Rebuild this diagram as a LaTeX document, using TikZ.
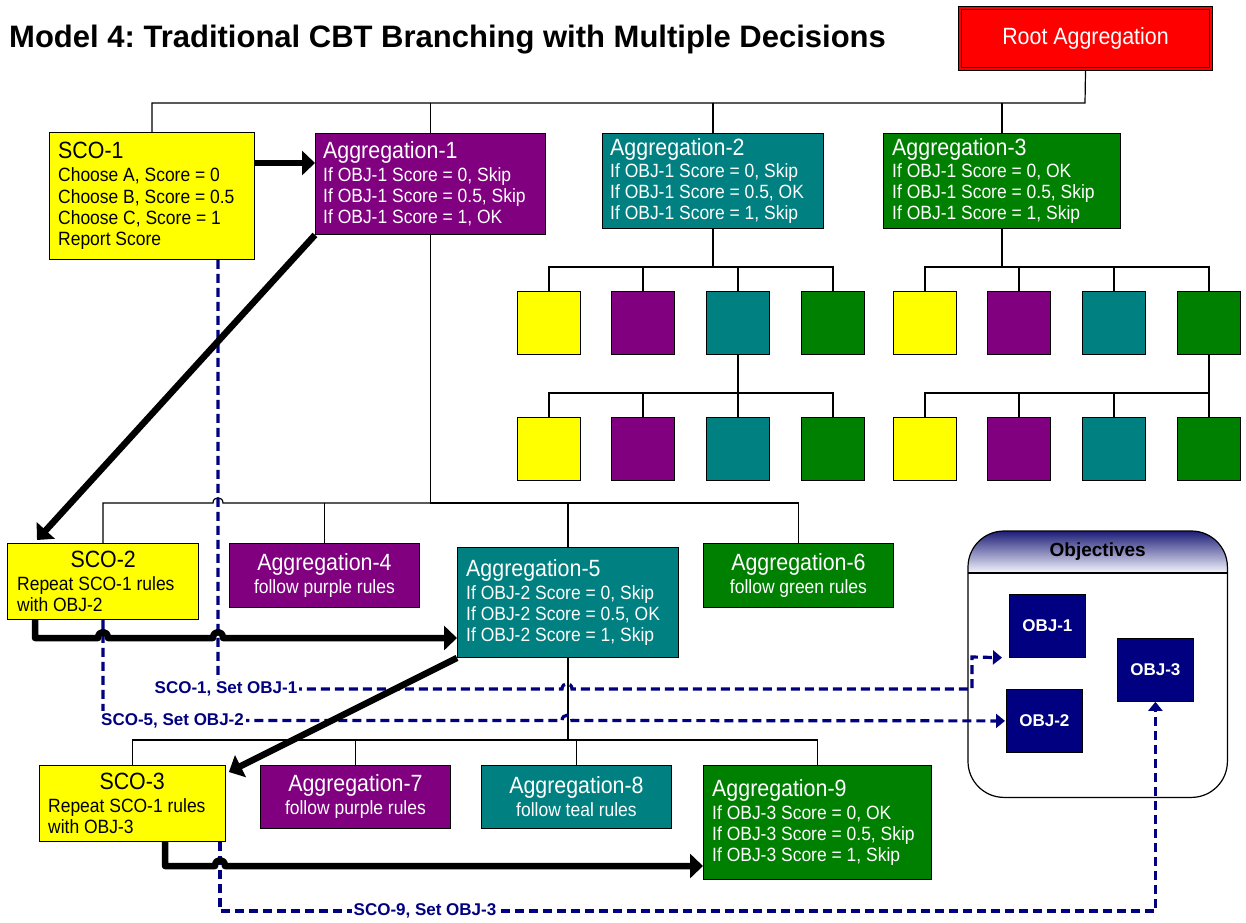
\documentclass[tikz,border=0pt]{standalone}
\usepackage{fontspec}
\setmainfont{Liberation Sans}
\newfontfamily\boxfont[FakeStretch=0.91]{Liberation Sans}
\usetikzlibrary{arrows.meta,calc}
\frenchspacing

\definecolor{cyellow}{RGB}{255,255,0}
\definecolor{cpurple}{RGB}{128,0,128}
\definecolor{cteal}{RGB}{0,128,128}
\definecolor{cgreen}{RGB}{0,128,0}
\definecolor{cred}{RGB}{255,0,0}
\definecolor{cnavy}{RGB}{0,0,128}

\newcommand\bigt[1]{{\fontsize{23.5}{23.5}\selectfont #1}}

\tikzset{
  boxbase/.style={draw=black, line width=0.9pt, anchor=north west, inner sep=0pt},
  rulestext/.style={anchor=west, align=left, inner sep=0pt, font=\boxfont\fontsize{19.2}{21.3}\selectfont},
  plainbox/.style={boxbase, align=center, text=white, font=\boxfont\fontsize{19.2}{23}\selectfont},
  tree/.style={draw=black, line width=1.2pt},
  flow/.style={draw=black, line width=6.5pt, line join=round, -{Triangle[length=13pt,width=24pt]}},
  objlink/.style={draw=cnavy, line width=3.2pt, dash pattern=on 9pt off 5pt, -{Triangle[length=9pt,width=14pt]}},
  objlabel/.style={text=cnavy, font=\bfseries\fontsize{17}{17}\selectfont, fill=white, inner sep=2pt},
  square/.style={draw=black, line width=1pt, minimum width=63pt, minimum height=63pt, anchor=north west, inner sep=0pt},
  objective/.style={fill=cnavy, draw=black, line width=0.8pt, text=white, font=\bfseries\fontsize{17}{17}\selectfont,
    minimum width=76pt, minimum height=63pt, anchor=north west, inner sep=0pt},
}

\begin{document}
\begin{tikzpicture}[x=1pt,y=-1pt]
\useasboundingbox (0,0) rectangle (1246,922);

% heading
\node[anchor=base west, inner sep=0pt, font=\bfseries\fontsize{31}{31}\selectfont] (title) at (9,47)
  {Model 4: Traditional CBT Branching with Multiple Decisions};

% root with its double frame
\node[boxbase, fill=cred, draw=black, line width=1pt, minimum width=254pt, minimum height=64pt,
      text=white, font=\boxfont\fontsize{23.5}{23.5}\selectfont]
      (root) at (958,6) {Root Aggregation};
\draw[line width=1pt] ([shift={(3.5pt,3.5pt)}]root.south west) rectangle ([shift={(-3.5pt,-3.5pt)}]root.north east);

% first level
\node[boxbase, fill=cyellow, minimum width=205pt, minimum height=127pt] (sco1) at (49,132) {};
\node[rulestext] (sco1t) at ([xshift=9pt]sco1.west)
  {\bigt{SCO-1}\\[2pt] Choose A, Score = 0\\ Choose B, Score = 0.5\\ Choose C, Score = 1\\ Report Score};

\node[boxbase, fill=cpurple, minimum width=230pt, minimum height=101pt] (agg1) at (315,133) {};
\node[rulestext, text=white] (agg1t) at ([xshift=8pt]agg1.west)
  {\bigt{Aggregation-1}\\[1pt] If OBJ-1 Score = 0, Skip\\ If OBJ-1 Score = 0.5, Skip\\ If OBJ-1 Score = 1, OK};

\node[boxbase, fill=cteal, minimum width=221pt, minimum height=95pt] (agg2) at (602,133) {};
\node[rulestext, text=white] (agg2t) at ([xshift=8pt]agg2.west)
  {\bigt{Aggregation-2}\\[1pt] If OBJ-1 Score = 0, Skip\\ If OBJ-1 Score = 0.5, OK\\ If OBJ-1 Score = 1, Skip};

\node[boxbase, fill=cgreen, minimum width=237pt, minimum height=95pt] (agg3) at (883,133) {};
\node[rulestext, text=white] (agg3t) at ([xshift=9pt]agg3.west)
  {\bigt{Aggregation-3}\\[1pt] If OBJ-1 Score = 0, OK\\ If OBJ-1 Score = 0.5, Skip\\ If OBJ-1 Score = 1, Skip};

% small children of aggregation 2 and 3
\foreach \nm/\xx/\cc in {A1/517/cyellow, A2/611/cpurple, A3/706/cteal, A4/801/cgreen,
                         B1/893/cyellow, B2/987/cpurple, B3/1082/cteal, B4/1177/cgreen}{
  \node[square, fill=\cc] (sq\nm) at (\xx,291) {};
}
\foreach \nm/\xx/\cc in {C1/517/cyellow, C2/611/cpurple, C3/706/cteal, C4/801/cgreen,
                         D1/893/cyellow, D2/987/cpurple, D3/1082/cteal, D4/1177/cgreen}{
  \node[square, fill=\cc] (sq\nm) at (\xx,417) {};
}

% second level
\node[boxbase, fill=cyellow, minimum width=191pt, minimum height=76pt] (sco2) at (7,543) {};
\node[rulestext] (sco2t) at ([xshift=10pt]sco2.west)
  {\makebox[172pt]{\bigt{SCO-2}}\\[1pt] Repeat SCO-1 rules\\ with OBJ-2};

\node[plainbox, fill=cpurple, minimum width=190pt, minimum height=64pt] (agg4) at (229,543)
  {\bigt{Aggregation-4}\\ follow purple rules};

\node[boxbase, fill=cteal, minimum width=221pt, minimum height=110pt] (agg5) at (457,547) {};
\node[rulestext, text=white] (agg5t) at ([xshift=9pt]agg5.west)
  {\bigt{Aggregation-5}\\[2pt] If OBJ-2 Score = 0, Skip\\ If OBJ-2 Score = 0.5, OK\\ If OBJ-2 Score = 1, Skip};

\node[plainbox, fill=cgreen, minimum width=190pt, minimum height=64pt] (agg6) at (703,543)
  {\bigt{Aggregation-6}\\ follow green rules};

% third level
\node[boxbase, fill=cyellow, minimum width=186pt, minimum height=76pt] (sco3) at (39,765) {};
\node[rulestext] (sco3t) at ([xshift=9pt]sco3.west)
  {\makebox[168pt]{\bigt{SCO-3}}\\[1pt] Repeat SCO-1 rules\\ with OBJ-3};

\node[plainbox, fill=cpurple, minimum width=190pt, minimum height=63pt] (agg7) at (260,765)
  {\bigt{Aggregation-7}\\ follow purple rules};

\node[plainbox, fill=cteal, minimum width=190pt, minimum height=63pt] (agg8) at (481,765)
  {\bigt{Aggregation-8}\\ follow teal rules};

\node[boxbase, fill=cgreen, minimum width=228pt, minimum height=114pt] (agg9) at (703,765) {};
\node[rulestext, text=white] (agg9t) at ([xshift=9pt]agg9.west)
  {\bigt{Aggregation-9}\\[2pt] If OBJ-3 Score = 0, OK\\ If OBJ-3 Score = 0.5, Skip\\ If OBJ-3 Score = 1, Skip};

% objectives panel
\node[minimum width=259pt, minimum height=266pt, anchor=north west, inner sep=0pt] (objs) at (968,531) {};
\begin{scope}
  \clip[rounded corners=36pt] (objs.north west) rectangle (objs.south east);
  \shade[top color={rgb,255:red,30;green,30;blue,120}, middle color={rgb,255:red,140;green,140;blue,205},
         bottom color={rgb,255:red,245;green,245;blue,255}]
    (objs.north west) rectangle (objs.east |- 0,573);
\end{scope}
\draw[line width=1.2pt, rounded corners=36pt] (objs.north west) rectangle (objs.south east);
\draw[line width=1.2pt] (objs.west |- 0,573) -- (objs.east |- 0,573);
\node[font=\bfseries\fontsize{19}{19}\selectfont] (objhead) at (objs.north |- 0,552) {Objectives};

\node[objective] (obj1) at (1009,594) {OBJ-1};
\node[objective] (obj2) at (1006,689) {OBJ-2};
\node[objective] (obj3) at (1117,638) {OBJ-3};

% tree connectors
\coordinate (bus0) at (1085,103);
\draw[tree] (root.south) -- (bus0) -- (sco1.north |- bus0) -- (sco1.north);
\draw[tree] (agg1.north) -- (agg1.north |- bus0);
\draw[tree] (agg2.north) -- (agg2.north |- bus0);
\draw[tree] (agg3.north) -- (agg3.north |- bus0);

\draw[tree, line width=2.2pt] (agg2.south) -- (agg2.south |- 0,267) coordinate (bus2);
\draw[tree] (sqA1.north) |- (sqA4.north |- bus2) -- (sqA4.north);
\draw[tree] (sqA2.north) -- (sqA2.north |- bus2);
\draw[tree] (sqA3.north) -- (sqA3.north |- bus2);
\draw[tree, line width=2.2pt] (agg3.south) -- (agg3.south |- 0,267) coordinate (bus3);
\draw[tree] (sqB1.north) |- (sqB4.north |- bus3) -- (sqB4.north);
\draw[tree] (sqB2.north) -- (sqB2.north |- bus3);
\draw[tree] (sqB3.north) -- (sqB3.north |- bus3);

\draw[tree, line width=2.2pt] (sqA3.south) -- (sqA3.south |- 0,393) coordinate (bus4);
\draw[tree] (sqC1.north) |- (sqC4.north |- bus4) -- (sqC4.north);
\draw[tree] (sqC2.north) -- (sqC2.north |- bus4);
\draw[tree] (sqC3.north) -- (sqC3.north |- bus4);
\draw[tree, line width=2.2pt] (sqB4.south) -- (sqB4.south |- 0,393) coordinate (bus6);
\draw[tree] (sqD1.north) |- (sqD4.north |- bus6) -- (sqD4.north);
\draw[tree] (sqD2.north) -- (sqD2.north |- bus6);
\draw[tree] (sqD3.north) -- (sqD3.north |- bus6);

\draw[tree] (agg1.south) -- (agg1.south |- 0,503) coordinate (bus1);
\draw[tree] (bus1) -- (223,503) .. controls (223,496) and (213,496) .. (213,503)
  -- (sco2.north |- bus1) -- (sco2.north);
\draw[tree] (bus1) -| (agg6.north);
\draw[tree] (agg4.north) -- (agg4.north |- bus1);
\draw[tree] (agg5.north) -- (agg5.north |- bus1);

\draw[tree] (agg5.south) -- (agg5.south |- 0,740) coordinate (bus5);
\draw[tree] (bus5) -| (sco3.north);
\draw[tree] (bus5) -| (agg9.north);
\draw[tree] (agg7.north) -- (agg7.north |- bus5);
\draw[tree] (agg8.north) -- (agg8.north |- bus5);

% objective links
\draw[objlink, shorten >=7pt] (sco1.south -| 218,0) -- (218,689) -- (562,689)
  .. controls (562,682) and (572,682) .. (572,689) -- (972,689) -- (972,657) -- (obj1.south west);
\node[objlabel] (lab1) at (226,689) {SCO-1, Set OBJ-1};

\draw[objlink, shorten >=1pt] (sco2.south -| 103,0) -- (103,720.5) -- (562,720.5)
  .. controls (562,713.5) and (572,713.5) .. (572,720.5) -- (obj2.west);
\node[objlabel, anchor=west] (lab2) at (99,720.5) {SCO-5, Set OBJ-2};

\draw[objlink] (sco3.south -| 220,0) -- (220,911) -- (obj3.south |- 0,911) -- (obj3.south);
\node[objlabel] (lab3) at (425,911) {SCO-9, Set OBJ-3};

% sequencing flow
\draw[flow] (sco1.east |- 0,163) -- (agg1.west |- 0,163);
\draw[flow] (agg1.south west) -- ($(sco2.north west)+(30,-3)$);
\draw[flow] (sco2.south -| 35,0) -- (35,638) -- (98,638) .. controls (98,630) and (108,630) .. (108,638)
  -- (213,638) .. controls (213,630) and (223,630) .. (223,638) -- (agg5.west |- 0,638);
\draw[flow] (agg5.south west) -- ($(sco3.north east)+(3,7)$);
\draw[flow] (sco3.south -| 165,0) -- (165,866) -- (215,866) .. controls (215,858) and (225,858) .. (225,866)
  -- (agg9.west |- 0,866);

\end{tikzpicture}
\end{document}
